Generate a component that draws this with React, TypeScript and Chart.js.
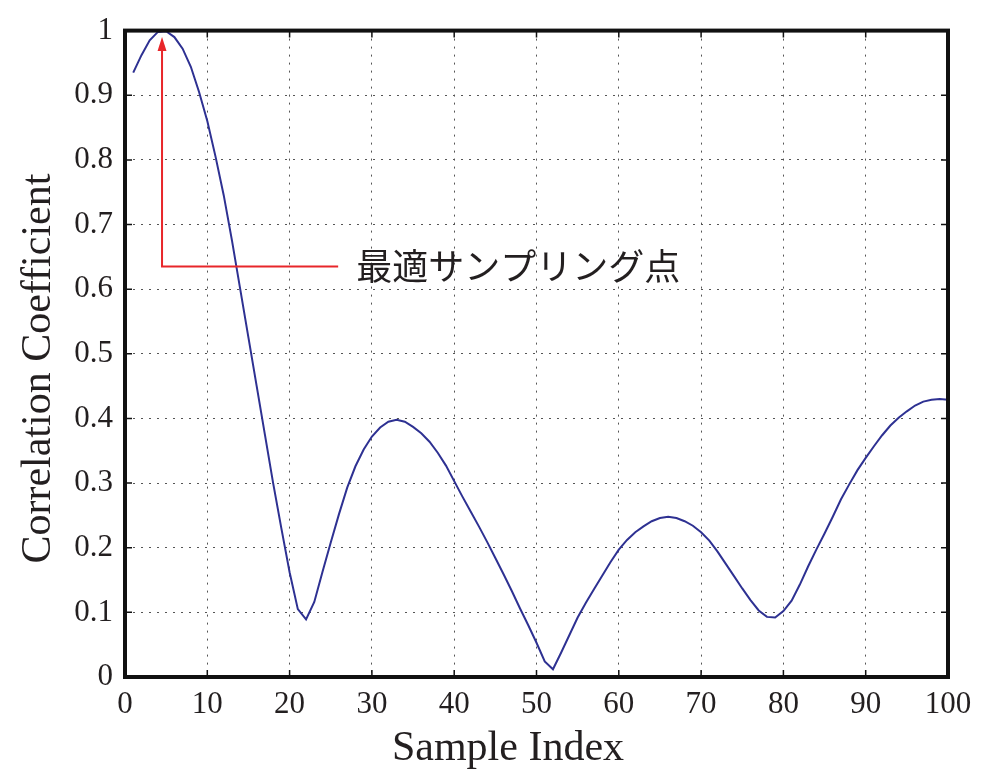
import React, { useEffect, useRef } from "react";
import { Chart, registerables } from "chart.js";

Chart.register(...registerables);

const sampleIndex: number[] = Array.from({ length: 100 }, (_, i) => i + 1);

const correlation: number[] = [
  0.935, 0.962, 0.985, 0.998, 0.999, 0.99, 0.972, 0.944, 0.905, 0.86,
  0.805, 0.745, 0.675, 0.6, 0.525, 0.45, 0.375, 0.3, 0.23, 0.162,
  0.105, 0.089, 0.116, 0.163, 0.208, 0.252, 0.293, 0.326, 0.352, 0.372,
  0.386, 0.395, 0.398, 0.395, 0.387, 0.377, 0.364, 0.347, 0.327, 0.303,
  0.279, 0.256, 0.233, 0.209, 0.184, 0.159, 0.133, 0.106, 0.08, 0.053,
  0.024, 0.012, 0.038, 0.065, 0.092, 0.115, 0.136, 0.157, 0.178, 0.197,
  0.212, 0.224, 0.233, 0.241, 0.246, 0.248, 0.246, 0.241, 0.234, 0.224,
  0.211, 0.194, 0.175, 0.156, 0.137, 0.119, 0.103, 0.093, 0.092, 0.102,
  0.118, 0.143, 0.171, 0.197, 0.222, 0.248, 0.275, 0.298, 0.32, 0.339,
  0.357, 0.374, 0.389, 0.401, 0.411, 0.42, 0.426, 0.429, 0.43, 0.429,
];

const xTickValues: number[] = [0, 10, 20, 30, 40, 50, 60, 70, 80, 90, 100];
const yTickValues: number[] = [0, 0.1, 0.2, 0.3, 0.4, 0.5, 0.6, 0.7, 0.8, 0.9, 1];

const xTitle = "Sample Index";
const yTitle = "Correlation Coefficient";

// annotation anchors (data units)
const annotLabel = "最適サンプリング点";
const annotX = 4.5;
const annotY = 0.635;
const annotTipY = 0.99;
const annotEndX = 25.9;

const SERIF = '"Liberation Serif", "Times New Roman", serif';

const framePlugin = {
  id: "frameAnnot",
  afterDatasetsDraw(chart: any) {
    const { ctx, chartArea: a, scales } = chart;
    const xs = scales.x;
    const ys = scales.y;
    ctx.save();

    // inward ticks
    ctx.strokeStyle = "#111";
    ctx.lineWidth = 1.5;
    const tl = 7;
    for (const v of xTickValues) {
      const px = xs.getPixelForValue(v);
      ctx.beginPath();
      ctx.moveTo(px, a.bottom);
      ctx.lineTo(px, a.bottom - tl);
      ctx.moveTo(px, a.top);
      ctx.lineTo(px, a.top + tl);
      ctx.stroke();
    }
    for (const v of yTickValues) {
      const py = ys.getPixelForValue(v);
      ctx.beginPath();
      ctx.moveTo(a.left, py);
      ctx.lineTo(a.left + tl, py);
      ctx.moveTo(a.right, py);
      ctx.lineTo(a.right - tl, py);
      ctx.stroke();
    }

    // frame
    ctx.strokeStyle = "#111";
    ctx.lineWidth = 4;
    ctx.strokeRect(a.left, a.top, a.right - a.left, a.bottom - a.top);

    // annotation
    const ax = xs.getPixelForValue(annotX);
    const ay = ys.getPixelForValue(annotY);
    const tipY = ys.getPixelForValue(annotTipY);
    const ex = xs.getPixelForValue(annotEndX);
    ctx.strokeStyle = "#e8262a";
    ctx.fillStyle = "#e8262a";
    ctx.lineWidth = 2;
    ctx.beginPath();
    ctx.moveTo(ex, ay);
    ctx.lineTo(ax, ay);
    ctx.lineTo(ax, tipY + 12);
    ctx.stroke();
    ctx.beginPath();
    ctx.moveTo(ax, tipY);
    ctx.lineTo(ax - 4.5, tipY + 14);
    ctx.lineTo(ax + 4.5, tipY + 14);
    ctx.closePath();
    ctx.fill();

    ctx.fillStyle = "#231f20";
    ctx.font = '36px "Noto Sans CJK JP"';
    ctx.textAlign = "left";
    ctx.textBaseline = "middle";
    ctx.fillText(annotLabel, ex + 18, ay);

    // axis titles
    ctx.fillStyle = "#231f20";
    ctx.font = `42px ${SERIF}`;
    ctx.textAlign = "center";
    ctx.textBaseline = "alphabetic";
    ctx.fillText(xTitle, a.left + 383, 760);
    ctx.save();
    ctx.translate(50, a.top + 338);
    ctx.rotate(-Math.PI / 2);
    ctx.fillText(yTitle, 0, 0);
    ctx.restore();

    ctx.restore();
  },
};

export default function App() {
  const ref = useRef<HTMLCanvasElement | null>(null);

  useEffect(() => {
    document.body.style.margin = "0";
    const canvas = ref.current;
    if (!canvas) return;
    const points = sampleIndex.map((x, i) => ({ x, y: correlation[i] }));
    const chart = new Chart(canvas, {
      type: "line",
      data: {
        datasets: [
          {
            data: points,
            borderColor: "#2e3192",
            borderWidth: 2,
            pointRadius: 0,
            tension: 0,
            fill: false,
          },
        ],
      },
      options: {
        animation: false,
        responsive: false,
        devicePixelRatio: 1,
        layout: { padding: { left: 0, right: 33, top: 27, bottom: 0 } },
        plugins: {
          legend: { display: false },
          tooltip: { enabled: false },
          title: { display: false },
        },
        scales: {
          x: {
            type: "linear",
            min: 0,
            max: 100,
            afterFit: (s: any) => {
              s.height = 96;
            },
            afterBuildTicks: (s: any) => {
              s.ticks = xTickValues.map((v) => ({ value: v }));
            },
            ticks: {
              font: { family: SERIF, size: 31 },
              color: "#231f20",
              padding: 9,
              maxRotation: 0,
              autoSkip: false,
              callback: (v: any) => String(v),
            },
            grid: {
              color: "#555",
              lineWidth: 1,
              drawTicks: false,
            },
            border: { display: false, dash: [2, 6] },
          },
          y: {
            type: "linear",
            min: 0,
            max: 1,
            afterFit: (s: any) => {
              s.width = 125;
            },
            afterBuildTicks: (s: any) => {
              s.ticks = yTickValues.map((v) => ({ value: v }));
            },
            ticks: {
              font: { family: SERIF, size: 31 },
              color: "#231f20",
              padding: 12,
              autoSkip: false,
              callback: (v: any) => String(Number(Number(v).toFixed(1))),
            },
            grid: {
              color: "#555",
              lineWidth: 1,
              drawTicks: false,
            },
            border: { display: false, dash: [2, 6] },
          },
        },
      },
      plugins: [framePlugin],
    });
    return () => chart.destroy();
  }, []);

  return (
    <div style={{ position: "absolute", left: 0, top: 0, width: 981, height: 773 }}>
      <canvas ref={ref} width={981} height={773} style={{ width: 981, height: 773 }} />
    </div>
  );
}
